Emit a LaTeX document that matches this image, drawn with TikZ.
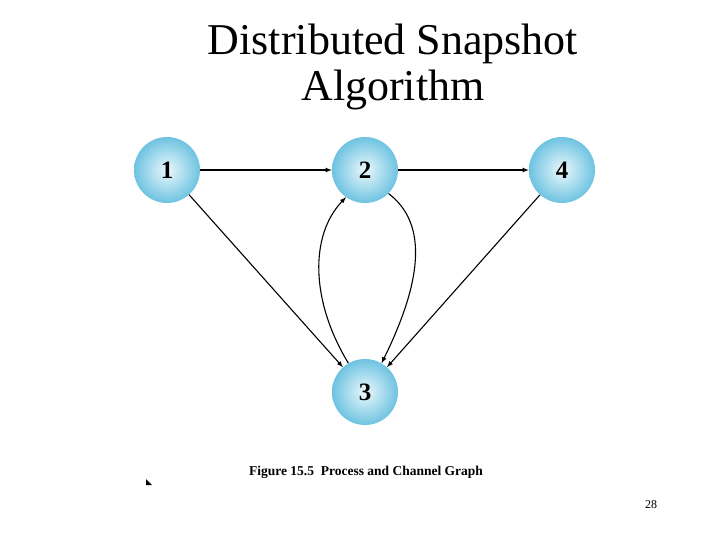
\documentclass[tikz,border=0pt]{standalone}
\usepackage{fontspec}
\setmainfont{Liberation Serif}
\usetikzlibrary{positioning}
\definecolor{procrim}{RGB}{110,195,225}
\definecolor{proccore}{RGB}{235,248,252}

\tikzset{
	proc/.style={circle, minimum size=66pt, inner sep=0pt, shading=radial,
		inner color=proccore, outer color=procrim, font=\bfseries\fontsize{25}{25}\selectfont},
	chan/.style={-latex, line width=1.1pt}
}

\begin{document}
\begin{tikzpicture}[x=1pt, y=-1pt]
	\useasboundingbox (0,0) rectangle (720,540);
	
	% Title
	\node[font=\fontsize{44}{46}\selectfont, align=center] (title) at (393,67) {Distributed Snapshot\\Algorithm};
	
	% Processes
	\node[proc] (p1) at (167,170) {1};
	\node[proc] (p2) at (365,170) {2};
	\node[proc] (p4) at (562,170) {4};
	\node[proc] (p3) at (365,392) {3};
	
	% Channels
	\draw[chan] (p1) -- (p2);
	\draw[chan] (p2) -- (p4);
	\draw[chan] (p1) -- (p3);
	\draw[chan] (p4) -- (p3);
	\draw[chan] (p2.-45) .. controls (430,225) and (420,285) .. (p3.60);
	\draw[chan] (p3.120) .. controls (310,300) and (310,235) .. (p2.235);
	
	% Caption and page number
	\node[font=\bfseries\fontsize{13.5}{15}\selectfont] (caption) at (366,472) {Figure 15.5\enspace Process and Channel Graph};
	\coordinate (mark) at (146,479);
	\fill (mark) -- ++(6,6) -- ++(-6,0) -- cycle;
	\node[font=\fontsize{12}{14}\selectfont] (page) at (651,505) {28};
\end{tikzpicture}
\end{document}
